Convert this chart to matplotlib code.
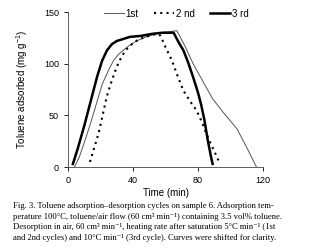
import matplotlib
matplotlib.use("Agg")
import matplotlib.pyplot as plt

# curves (time in min, toluene adsorbed in mg/g)
t_1st = [4, 7, 10.5, 14, 17.6, 21, 25, 28, 31, 34, 38, 42, 48, 56, 62, 67,
         72, 77, 83, 89, 96, 104, 110, 116]
q_1st = [0, 10, 26, 43, 62, 80, 94, 103, 109, 113, 118, 122, 126, 130, 131, 132,
         117, 100, 83, 66, 52, 37, 19, 0]

t_2nd = [13.5, 16, 18.7, 21, 23.8, 27, 30, 33, 36, 40, 44, 50, 55, 57,
         60, 64, 67, 71, 75, 79, 82, 85, 88, 91, 93.5]
q_2nd = [5, 18, 32, 48, 68, 84, 97, 107, 114, 120, 124, 127, 129, 127,
         116, 103, 90, 74, 64, 55, 45, 33, 22, 12, 3]

t_3rd = [3, 6, 10, 14, 18, 21, 24, 27, 30, 34, 38, 45, 52, 58, 63, 65,
         68, 71, 74, 77, 80, 82, 84, 86, 88, 89]
q_3rd = [3, 18, 40, 64, 88, 103, 113, 119, 122, 124, 126, 127, 129, 130, 130, 130,
         121, 113, 101, 87, 72, 60, 45, 26, 10, 3]

x_ticks = [0, 40, 80, 120]
y_ticks = [0, 50, 100, 150]

caption_lines = [
    "Fig. 3. Toluene adsorption\u2013desorption cycles on sample 6. Adsorption tem-",
    "perature 100\u00b0C, toluene/air flow (60 cm\u00b3 min\u207b\u00b9) containing 3.5 vol% toluene.",
    "Desorption in air, 60 cm\u00b3 min\u207b\u00b9, heating rate after saturation 5\u00b0C min\u207b\u00b9 (1st",
    "and 2nd cycles) and 10\u00b0C min\u207b\u00b9 (3rd cycle). Curves were shifted for clarity.",
]

plt.rcParams["font.family"] = ["Liberation Sans", "DejaVu Sans"]
plt.rcParams["mathtext.fontset"] = "custom"
plt.rcParams["mathtext.rm"] = "Liberation Sans"

fig = plt.figure(figsize=(3.14, 2.52), dpi=100)
ax = fig.add_axes([0.2166, 0.337, 0.621, 0.615])

ax.plot(t_1st, q_1st, color="#555555", lw=0.7, label="1st")
ax.plot(t_2nd, q_2nd, color="black", lw=1.5, linestyle=(0, (1, 2)), label="2 nd")
ax.plot(t_3rd, q_3rd, color="black", lw=1.8, label="3 rd")

ax.set_xlim(0, 120)
ax.set_ylim(0, 150)
ax.set_xticks(x_ticks)
ax.set_yticks(y_ticks)
ax.tick_params(labelsize=6.5, length=3, width=0.6, direction="out")
ax.spines["top"].set_visible(False)
ax.spines["right"].set_visible(False)
for s in ["left", "bottom"]:
    ax.spines[s].set_linewidth(0.6)
    ax.spines[s].set_color("#444444")

ax.set_xlabel("Time (min)", fontsize=7, labelpad=2)
ax.set_ylabel("Toluene adsorbed (mg g$^{-1}$)", fontsize=7, labelpad=10)

ax.legend(loc="center", bbox_to_anchor=(0.556, 0.99), ncol=3, frameon=False,
          fontsize=7, handlelength=2.0, handletextpad=0.2, columnspacing=1.6)

# caption, one line at a time so superscripts don't stretch the spacing
for i, line in enumerate(caption_lines):
    fig.text(0.042, 0.182 - i * 0.042, line, fontsize=6.2,
             family=["Liberation Serif", "DejaVu Serif"], va="center", ha="left")

fig.savefig("out.png", dpi=100)
